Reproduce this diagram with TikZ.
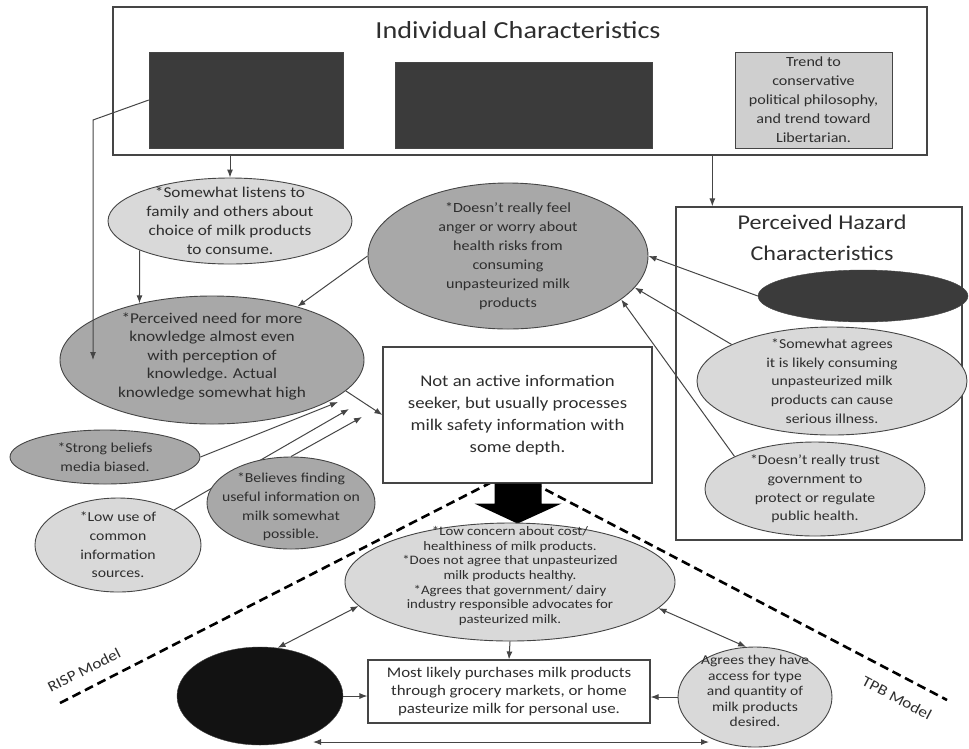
\documentclass[tikz,border=0pt]{standalone}
\usepackage{fontspec}
\setmainfont{Carlito}[FakeStretch=1.15]
\usetikzlibrary{%
    shapes.geometric,%
    arrows.meta,%
    backgrounds,%
    positioning%
}
\definecolor{lightgrey}{HTML}{D9D9D9}
\definecolor{midgrey}{HTML}{A8A8A8}
\definecolor{boxgrey}{HTML}{CFCFCF}
\definecolor{darkgrey}{HTML}{3B3B3B}
\definecolor{linegrey}{HTML}{454545}
\definecolor{textgrey}{HTML}{2E2E2E}
\tikzset{
    lightoval/.style={ellipse, draw=linegrey, line width=0.9pt, fill=lightgrey, inner sep=0pt},
    midoval/.style={ellipse, draw=linegrey, line width=0.9pt, fill=midgrey, inner sep=0pt},
    ovaltext/.style={align=center, text=textgrey, inner sep=0pt, font=\fontsize{13.7}{18.7}\selectfont},
    darkbox/.style={rectangle, draw=linegrey, fill=darkgrey, inner sep=0pt},
    outline/.style={rectangle, draw=linegrey, line width=1.3pt, inner sep=0pt},
    linkarrow/.style={draw=linegrey, line width=1pt, -{Latex[length=8pt,width=6pt]}},
    twoway/.style={linkarrow, {Latex[length=8pt,width=6pt]}-{Latex[length=8pt,width=6pt]}},
    modelline/.style={draw=black, line width=2.6pt, dash pattern=on 9pt off 5pt},
    modeltext/.style={text=textgrey, font=\fontsize{15}{18}\selectfont, inner sep=0pt}
}
\begin{document}
\begin{tikzpicture}[x=1pt, y=-1pt]
\useasboundingbox (0,0) rectangle (969,748);

% individual characteristics
\node[outline, minimum width=814pt, minimum height=148pt] (indiv) at (520,81) {};
\node[text=textgrey, font=\fontsize{24.5}{29}\selectfont] (indivtitle) at (518,30) {Individual Characteristics};
\node[darkbox, minimum width=194pt, minimum height=96pt] (dark1) at (246,100) {};
\node[darkbox, minimum width=257pt, minimum height=86pt] (dark2) at (523.5,105) {};
\node[rectangle, draw=linegrey, line width=1pt, fill=boxgrey, minimum width=157pt, minimum height=96pt,
      ovaltext, font=\fontsize{14}{19}\selectfont] (trend) at (813.5,100)
      {Trend to\\conservative\\political philosophy,\\and trend toward\\Libertarian.};

% perceived hazard characteristics
\node[outline, minimum width=286pt, minimum height=333pt] (hazard) at (819,373.5) {};
\node[align=center, text=textgrey, font=\fontsize{21}{31}\selectfont] (hztitle) at (822,238)
      {Perceived Hazard\\Characteristics};
\node[ellipse, draw=linegrey, fill=darkgrey, minimum width=210pt, minimum height=52pt] (darkell) at (863,296) {};
\node[lightoval, minimum width=270pt, minimum height=108pt,
      label={[ovaltext]center:{*Somewhat agrees\\it is likely consuming\\unpasteurized milk\\products can cause\\serious illness.}}] (sev) at (832,381) {};
\node[lightoval, minimum width=220pt, minimum height=94pt,
      label={[ovaltext]center:{*Doesn't really trust\\government to\\protect or regulate\\public health.}}] (trust) at (815,489) {};

% left side ovals
\node[lightoval, minimum width=244pt, minimum height=86pt,
      label={[ovaltext, font=\fontsize{15}{19}\selectfont]center:{*Somewhat listens to\\family and others about\\choice of milk products\\to consume.}}] (listen) at (230,221) {};
\node[midoval, minimum width=280pt, minimum height=146pt,
      label={[ovaltext, font=\fontsize{14}{19}\selectfont]center:{*Doesn't really feel\\anger or worry about\\health risks from\\consuming\\unpasteurized milk\\products}}] (feel) at (508,256) {};
\node[midoval, minimum width=304pt, minimum height=128pt,
      label={[ovaltext, font=\fontsize{15}{18.5}\selectfont, yshift=4pt]center:{*Perceived need for more\\knowledge almost even\\with perception of\\knowledge. Actual\\knowledge somewhat high}}] (perc) at (212,360) {};
\node[midoval, minimum width=190pt, minimum height=54pt,
      label={[ovaltext]center:{*Strong beliefs\\media biased.}}] (strong) at (105,457) {};
\node[lightoval, minimum width=166pt, minimum height=94pt,
      label={[ovaltext]center:{*Low use of\\common\\information\\sources.}}] (lowuse) at (118,545) {};
\node[midoval, minimum width=168pt, minimum height=92pt,
      label={[ovaltext, yshift=-4pt]center:{*Believes finding\\useful information on\\milk somewhat\\possible.}}] (believe) at (291,503) {};

% processing box
\node[outline, line width=1.1pt, fill=white, minimum width=269pt, minimum height=136pt, align=center,
      text=textgrey, font=\fontsize{16.3}{22}\selectfont] (main) at (517.5,415)
      {Not an active information\\seeker, but usually processes\\milk safety information with\\some depth.};
\fill[black] ([xshift=-23pt]main.south) -- ++(47,0) -- ++(0,20) -- ++(20,0) -- ++(-44,20)
      -- ++(-43,-20) -- ++(20,0) -- cycle;

% behaviour part
\node[lightoval, minimum width=330pt, minimum height=118pt,
      label={[ovaltext, font=\fontsize{12.9}{14.6}\selectfont, yshift=6pt]center:{*Low concern about cost/\\healthiness of milk products.\\*Does not agree that unpasteurized\\milk products healthy.\\*Agrees that government/ dairy\\industry responsible advocates for\\pasteurized milk.}}] (big) at (510,582) {};
\node[ellipse, draw=linegrey, fill=black!93, minimum width=166pt, minimum height=98pt] (black) at (260,696) {};
\node[outline, line width=1.1pt, minimum width=282pt, minimum height=63pt, align=center,
      text=textgrey, font=\fontsize{14.7}{18.3}\selectfont] (buy) at (509,691.5)
      {Most likely purchases milk products\\through grocery markets, or home\\pasteurize milk for personal use.};
\node[lightoval, minimum width=154pt, minimum height=100pt,
      label={[ovaltext, font=\fontsize{13.5}{15.5}\selectfont, yshift=6pt]center:{Agrees they have\\access for type\\and quantity of\\milk products\\desired.}}] (agrees) at (755,697) {};

% model lines
\coordinate (rispend) at (60,703);
\coordinate (risptop) at (490,483);
\coordinate (tpbtop) at (533,483);
\coordinate (tpbend) at (947,700);
\coordinate (tipA) at (338,402);
\coordinate (tipB) at (349,409);
\coordinate (tipC) at (362,417);
\coordinate (bend) at (93,120);
\coordinate (botL) at (313,742);
\coordinate (botR) at (709,742);

\begin{scope}[on background layer]
\draw[modelline] (rispend) -- (risptop);
\draw[modelline] (tpbtop) -- (tpbend);
\draw[linkarrow] (lowuse.32) -- (tipB);
\end{scope}
\node[modeltext, rotate=27.1] (risp) at (84,670) {RISP Model};
\node[modeltext, rotate=-27.7] (tpb) at (897,698) {TPB Model};

% connectors
\draw[linkarrow] (indiv.south -| listen.north) -- (listen.north);
\draw[linkarrow] ([xshift=37pt]hazard.north west |- indiv.south) -- ([xshift=37pt]hazard.north west);
\draw[linkarrow] (dark1.west) -- (bend) -- (bend |- perc.center);
\draw[linkarrow] (listen.198) -- (perc.142);
\draw[linkarrow] (feel.west) -- (perc.32);
\draw[linkarrow] (perc.-13) -- (main.west);
\draw[linkarrow] (strong.east) -- (tipA);
\draw[linkarrow] (believe.north) -- (tipC);
\draw[linkarrow] (darkell.west) -- (feel.east);
\draw[linkarrow] (sev.160) -- (feel.-14);
\draw[linkarrow] (trust.158) -- (feel.-21);
\draw[twoway] (big.189) -- (black.70);
\draw[twoway] (big.-10) -- (agrees.100);
\draw[linkarrow] (big.south) -- (buy.north);
\draw[linkarrow] (black.east) -- (black.east -| buy.west);
\draw[linkarrow] (agrees.west) -- (agrees.west -| buy.east);
\draw[twoway] (botL) -- (botR);
\end{tikzpicture}
\end{document}
